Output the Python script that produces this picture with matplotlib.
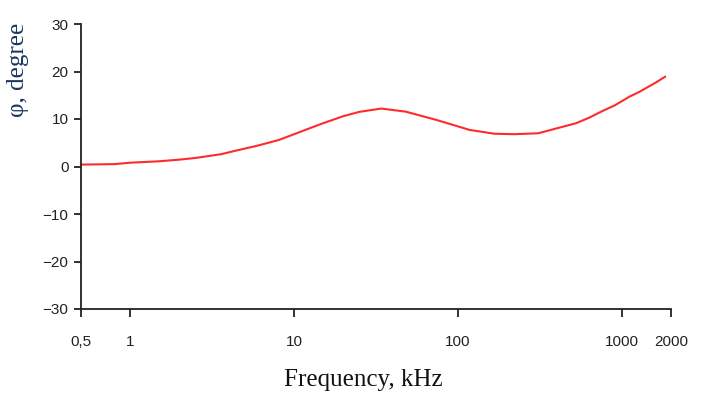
import numpy as np
import matplotlib.pyplot as plt

# frequency (kHz) and phase angle (degree)
freq = [0.5, 0.8, 1.0, 1.5, 2.0, 2.5, 3.6, 4.3, 6.0, 8.1, 11.3, 15, 20, 25, 34, 48, 74,
        118, 167, 221, 310, 440, 525, 635, 765, 910, 1115, 1280, 1620, 1840]
phi = [0.4, 0.5, 0.8, 1.1, 1.45, 1.8, 2.6, 3.25, 4.4, 5.6, 7.5, 9.1, 10.6, 11.5, 12.2, 11.55, 9.8,
       7.7, 6.9, 6.8, 7.0, 8.4, 9.1, 10.3, 11.7, 12.9, 14.7, 15.7, 17.7, 18.9]

x_ticks = [0.5, 1, 10, 100, 1000, 2000]
x_labels = ['0,5', '1', '10', '100', '1000', '2000']
y_ticks = [-30, -20, -10, 0, 10, 20, 30]

fig = plt.figure(figsize=(7.03, 4.0), dpi=100)
ax = fig.add_axes([0.1152, 0.2275, 0.8393, 0.7125])

ax.plot(freq, phi, color='#ff2a2a', lw=1.5)

ax.set_xscale('log')
ax.set_xlim(0.5, 2000)
ax.set_ylim(-30, 30)
ax.set_xticks(x_ticks)
ax.set_xticklabels(x_labels)
ax.xaxis.set_minor_locator(plt.NullLocator())
ax.set_yticks(y_ticks)

for side in ['top', 'right']:
    ax.spines[side].set_visible(False)
for side in ['left', 'bottom']:
    ax.spines[side].set_linewidth(1.3)
    ax.spines[side].set_color('#222222')

ax.tick_params(axis='both', colors='#222222', labelsize=11, width=1.3,
               labelcolor='#222222')
ax.tick_params(axis='x', length=6, pad=13)
ax.tick_params(axis='y', length=5, pad=4)
for lab in ax.get_xticklabels() + ax.get_yticklabels():
    lab.set_family('Liberation Sans')

ax.set_xlabel('Frequency, kHz', family='Liberation Serif', fontsize=18, color='#111111')
ax.xaxis.set_label_coords(0.479, -0.2105)
ax.set_ylabel('φ, degree', family='Liberation Serif', fontsize=18, color='#1a3560')
ax.yaxis.set_label_coords(-0.088, 0.839)

fig.savefig('out.png', dpi=100)
